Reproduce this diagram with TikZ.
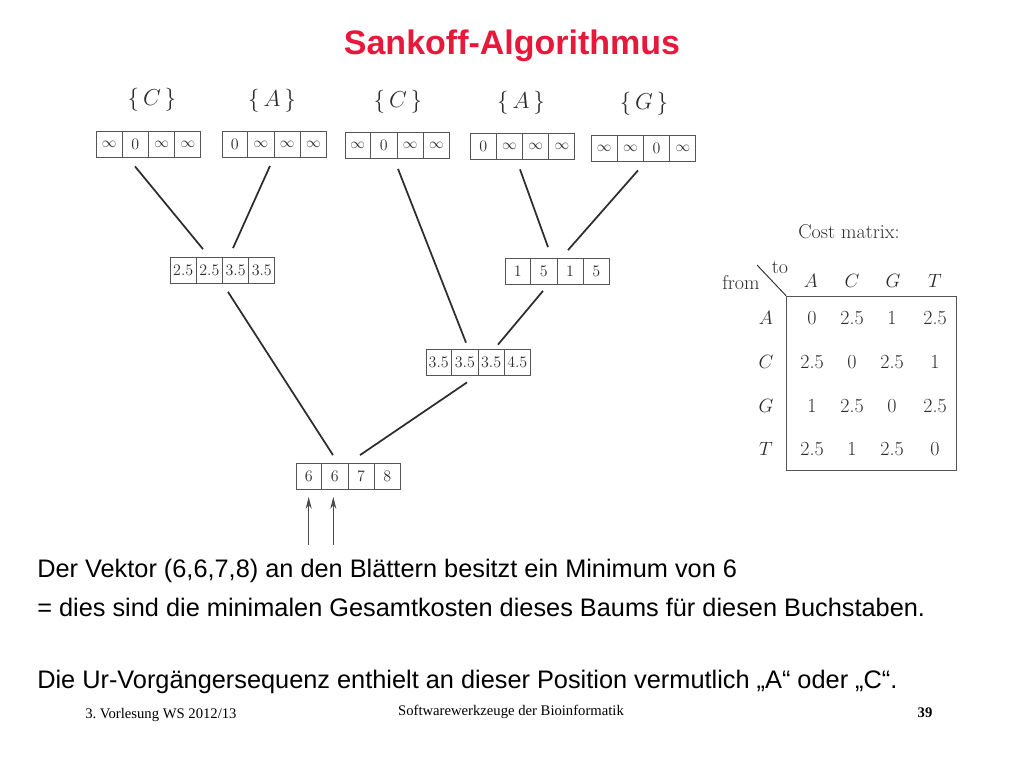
\documentclass[tikz,border=0pt]{standalone}
\usepackage{fontspec}
\setmainfont{Latin Modern Roman}
\newfontfamily\arialfont{Liberation Sans}
\newfontfamily\timesfont{Liberation Serif}
\usetikzlibrary{calc,arrows.meta}
\definecolor{titlered}{RGB}{232,24,58}
\definecolor{ink}{RGB}{45,45,45}
\definecolor{boxgray}{RGB}{85,85,85}
\newcommand{\infsym}{{\fontsize{10.5}{12}\selectfont$\infty$}}
\frenchspacing
\begin{document}
\begin{tikzpicture}[x=0.75pt,y=-0.75pt,
  vecbox/.style={draw=boxgray,line width=0.6pt,minimum width=78pt,minimum height=19.5pt,inner sep=0pt},
  celltext/.style={font=\fontsize{12}{14}\selectfont,text=ink,inner sep=0pt},
  edgeline/.style={draw=ink,line width=1.3pt},
  uparrow/.style={draw=ink!85,line width=0.7pt,-{Stealth[length=9pt,width=4.5pt]}},
  leaflab/.style={font=\fontsize{17}{20}\selectfont,text=ink},
  cmtext/.style={font=\fontsize{15}{17}\selectfont,text=ink},
  bodytext/.style={font=\arialfont\fontsize{19}{22}\selectfont,anchor=west,inner sep=0pt},
  foottext/.style={font=\timesfont\fontsize{11}{13}\selectfont,inner sep=0pt}]
\useasboundingbox (0,0) rectangle (1024,768);
\fill[white] (0,0) rectangle (1024,768);

\newcommand{\vecnode}[6]{%
  \node[vecbox] (#1) at (#2) {};
  \foreach \k in {1,2,3}{\draw[boxgray,line width=0.6pt] ($(#1.north west)!\k/4!(#1.north east)$) -- ($(#1.south west)!\k/4!(#1.south east)$);}
  \node[celltext] (#1-1) at ($(#1.west)!0.125!(#1.east)$) {#3};
  \node[celltext] (#1-2) at ($(#1.west)!0.375!(#1.east)$) {#4};
  \node[celltext] (#1-3) at ($(#1.west)!0.625!(#1.east)$) {#5};
  \node[celltext] (#1-4) at ($(#1.west)!0.875!(#1.east)$) {#6};
}

% title
\node[font=\arialfont\bfseries\fontsize{25.5}{30}\selectfont,text=titlered] (title) at (512,46) {Sankoff-Algorithmus};

% leaf labels
\node[leaflab] (lab1) at (152,100) {$\{\,C\,\}$};
\node[leaflab] (lab2) at (272,101) {$\{\,A\,\}$};
\node[leaflab] (lab3) at (398,102) {$\{\,C\,\}$};
\node[leaflab] (lab4) at (521,103) {$\{\,A\,\}$};
\node[leaflab] (lab5) at (644,104) {$\{\,G\,\}$};

% leaves
\vecnode{leaf1}{148.5,144}{\infsym}{0}{\infsym}{\infsym}
\vecnode{leaf2}{274,144.5}{0}{\infsym}{\infsym}{\infsym}
\vecnode{leaf3}{397,145.5}{\infsym}{0}{\infsym}{\infsym}
\vecnode{leaf4}{522.5,146}{0}{\infsym}{\infsym}{\infsym}
\vecnode{leaf5}{643.5,148}{\infsym}{\infsym}{0}{\infsym}

% inner nodes
\vecnode{n1}{222.5,270.5}{2.5}{2.5}{3.5}{3.5}
\vecnode{n2}{557,271.5}{1}{5}{1}{5}
\vecnode{n3}{478,362}{3.5}{3.5}{3.5}{4.5}
\vecnode{root}{348,476.5}{6}{6}{7}{8}

% edges
\draw[edgeline] ([shift={(-13.5,9)}]leaf1.south) -- ([shift={(-19.5,-8)}]n1.north);
\draw[edgeline] ([shift={(-4,8)}]leaf2.south) -- ([shift={(10.5,-9)}]n1.north);
\draw[edgeline] ([shift={(1,10)}]leaf3.south) -- ([shift={(-12,-6)}]n3.north);
\draw[edgeline] ([shift={(-2.5,10)}]leaf4.south) -- ([shift={(-9,-11)}]n2.north);
\draw[edgeline] ([shift={(-5.5,9)}]leaf5.south) -- ([shift={(11,-8)}]n2.north);
\draw[edgeline] ([shift={(-14,6)}]n2.south) -- ([shift={(20,-4)}]n3.north);
\draw[edgeline] ([shift={(5.5,8)}]n1.south) -- ([shift={(-15,-8)}]root.north);
\draw[edgeline] ([shift={(-11,7)}]n3.south) -- ([shift={(12,-8)}]root.north);

% arrows
\coordinate (a1) at ($(root.south west)!0.125!(root.south east)+(0,55)$);
\coordinate (a2) at ($(root.south west)!0.36!(root.south east)+(0,55)$);
\coordinate (t1) at ($(root.south west)!0.125!(root.south east)+(0,7)$);
\coordinate (t2) at ($(root.south west)!0.36!(root.south east)+(0,7)$);
\draw[uparrow] (a1) -- (t1);
\draw[uparrow] (a2) -- (t2);

% cost matrix
\node[cmtext] (cmt) at (849,232) {Cost matrix:};
\node[draw=boxgray,line width=0.8pt,minimum width=127.5pt,minimum height=131pt,inner sep=0pt] (tab) at (871.5,383.5) {};
\coordinate (dg) at (757,265);
\draw[ink,line width=0.7pt] (dg) -- (tab.north west);
\node[cmtext] (to) at (780,267) {to};
\node[cmtext] (from) at (741,283) {from};
\foreach \c/\x in {A/811,C/852,G/893,T/935}{\node[cmtext] (h\c) at (\x,281) {$\c$};}
\foreach \r/\y in {A/318,C/362,G/406,T/449}{\node[cmtext] (r\r) at (766,\y) {$\r$};}
\node[cmtext] (vAA) at (812,318) {0};
\node[cmtext] (vAC) at (852,318) {2.5};
\node[cmtext] (vAG) at (892,318) {1};
\node[cmtext] (vAT) at (935,318) {2.5};
\node[cmtext] (vCA) at (812,362) {2.5};
\node[cmtext] (vCC) at (852,362) {0};
\node[cmtext] (vCG) at (892,362) {2.5};
\node[cmtext] (vCT) at (935,362) {1};
\node[cmtext] (vGA) at (812,406) {1};
\node[cmtext] (vGC) at (852,406) {2.5};
\node[cmtext] (vGG) at (892,406) {0};
\node[cmtext] (vGT) at (935,406) {2.5};
\node[cmtext] (vTA) at (812,449) {2.5};
\node[cmtext] (vTC) at (852,449) {1};
\node[cmtext] (vTG) at (892,449) {2.5};
\node[cmtext] (vTT) at (935,449) {0};

% body text
\node[bodytext] (l1) at (37,571) {Der Vektor (6,6,7,8) an den Blättern besitzt ein Minimum von 6};
\node[bodytext] (l2) at (37,607) {= dies sind die minimalen Gesamtkosten dieses Baums für diesen Buchstaben.};
\node[bodytext] (l3) at (37,682) {Die Ur-Vorgängersequenz enthielt an dieser Position vermutlich „A“ oder „C“.};

% footer
\node[foottext,anchor=west] (f1) at (85,715) {3. Vorlesung WS 2012/13};
\node[foottext] (f2) at (511,712) {Softwarewerkzeuge der Bioinformatik};
\node[foottext,font=\timesfont\bfseries\fontsize{11}{13}\selectfont] (f3) at (925,713) {39};
\end{tikzpicture}
\end{document}
